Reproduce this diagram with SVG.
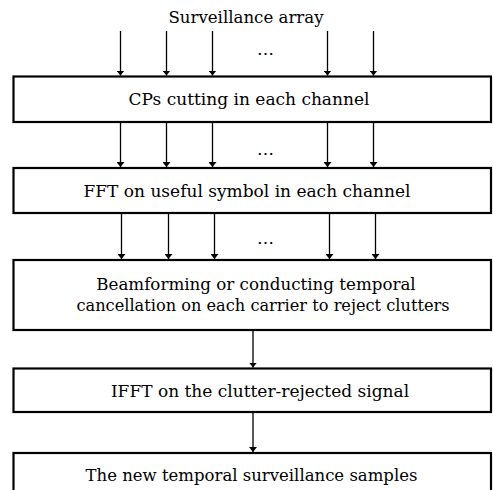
<svg xmlns="http://www.w3.org/2000/svg" width="493" height="490" viewBox="0 0 493 490">
<defs>
<marker id="ah" viewBox="0 0 10 10" refX="10" refY="5" markerWidth="5" markerHeight="8" markerUnits="userSpaceOnUse" orient="auto" preserveAspectRatio="none">
<path d="M0,0 L10,5 L0,10 Z" fill="#000"/>
</marker>
<style>
.box{fill:#fff;stroke:#000;stroke-width:2.2}
.c{stroke:#000;stroke-width:1.3;fill:none;marker-end:url(#ah)}
text{font-family:"DejaVu Serif","Liberation Serif",serif;font-size:17px;fill:#000;text-anchor:middle}
</style>
</defs>
<rect width="493" height="490" fill="#fff"/>
<text x="246" y="23.3" style="font-size:16.6px">Surveillance array</text>
<g id="connectors">
<line class="c" x1="120.5" y1="31" x2="120.5" y2="75.5"/>
<line class="c" x1="166.5" y1="31" x2="166.5" y2="75.5"/>
<line class="c" x1="212.5" y1="31" x2="212.5" y2="75.5"/>
<line class="c" x1="327.5" y1="31" x2="327.5" y2="75.5"/>
<line class="c" x1="373.5" y1="31" x2="373.5" y2="75.5"/>
<line class="c" x1="120.5" y1="123" x2="120.5" y2="167"/>
<line class="c" x1="166.5" y1="123" x2="166.5" y2="167"/>
<line class="c" x1="212.5" y1="123" x2="212.5" y2="167"/>
<line class="c" x1="327.5" y1="123" x2="327.5" y2="167"/>
<line class="c" x1="373.5" y1="123" x2="373.5" y2="167"/>
<line class="c" x1="121.5" y1="214" x2="121.5" y2="259"/>
<line class="c" x1="168.5" y1="214" x2="168.5" y2="259"/>
<line class="c" x1="214.5" y1="214" x2="214.5" y2="259"/>
<line class="c" x1="329.5" y1="214" x2="329.5" y2="259"/>
<line class="c" x1="375.5" y1="214" x2="375.5" y2="259"/>
<line class="c" x1="253" y1="331" x2="253" y2="367.5"/>
<line class="c" x1="253" y1="413" x2="253" y2="452"/>
<text x="265.5" y="55">…</text>
<text x="265.5" y="155">…</text>
<text x="265.5" y="244">…</text>
</g>
<g id="n1">
<rect class="box" x="13.5" y="76.5" width="477.5" height="45.5"/>
<text x="249" y="105">CPs cutting in each channel</text>
</g>
<g id="n2">
<rect class="box" x="13.5" y="168" width="477.5" height="45"/>
<text x="247" y="196.5">FFT on useful symbol in each channel</text>
</g>
<g id="n3">
<rect class="box" x="13.5" y="260" width="477.5" height="70"/>
<text x="256" y="290" style="font-size:16.7px">Beamforming or conducting temporal</text>
<text x="263" y="311" style="font-size:16.2px">cancellation on each carrier to reject clutters</text>
</g>
<g id="n4">
<rect class="box" x="13.5" y="368.5" width="477.5" height="43.5"/>
<text x="260" y="396.5">IFFT on the clutter-rejected signal</text>
</g>
<g id="n5">
<rect class="box" x="13.5" y="453" width="477.5" height="50"/>
<text x="251.5" y="481" style="font-size:16.5px">The new temporal surveillance samples</text>
</g>
</svg>
